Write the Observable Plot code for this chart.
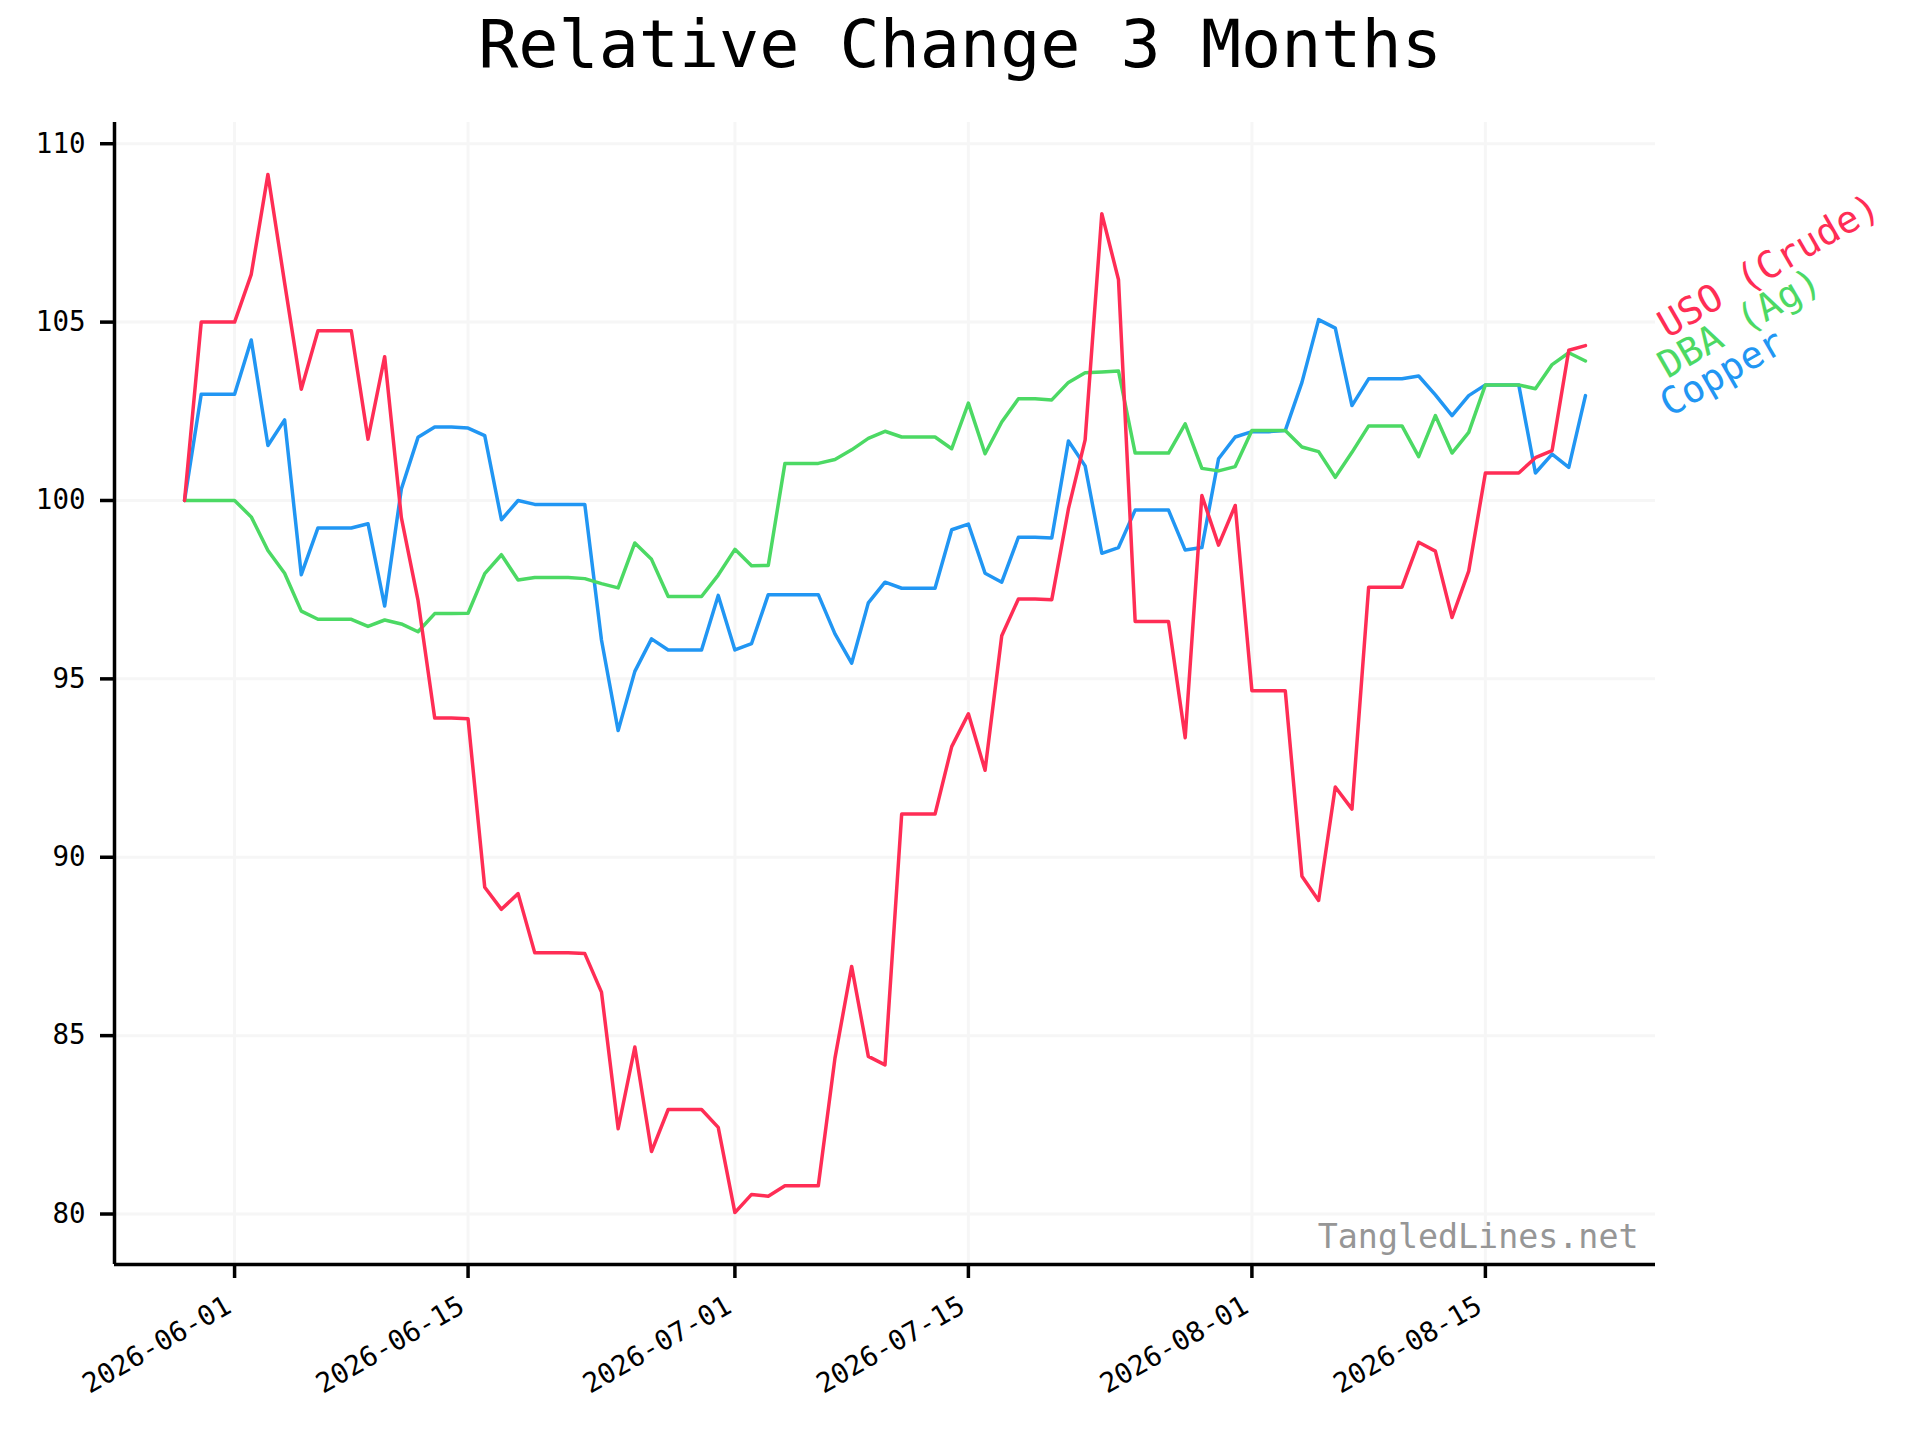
<!DOCTYPE html>
<html>
<head>
<meta charset="utf-8">
<script src="https://cdn.jsdelivr.net/npm/d3@7"></script>
<script src="https://cdn.jsdelivr.net/npm/@observablehq/plot@0.6"></script>
<style>
  html, body { margin: 0; padding: 0; background: #ffffff; }
  #wrap { width: 1920px; position: relative; background: #fff; }
  #title { position: relative; height: 100px; width: 1920px; }
  #title span {
    position: absolute; left: 0; width: 1920px; top: 11px; text-align: center;
    font-family: "DejaVu Sans Mono", monospace; font-size: 66.7px; line-height: 1; color: #000;
  }
  svg { display: block; }
</style>
</head>
<body>
<div id="wrap">
  <div id="title"><span>Relative Change 3 Months</span></div>
  <div id="chart"></div>
</div>
<script>
// ---- data ----
const startDate = "2026-05-29";
const endDate = "2026-08-21";

const seriesNames = ["USO (Crude)", "DBA (Ag)", "Copper"];

const uso = [
  100, 105.0, 105.0, 105.0, 106.34, 109.14, 106.1, 103.12, 104.76, 104.76,
  104.76, 101.72, 104.03, 99.52, 97.2, 93.9, 93.9, 93.88, 89.16, 88.54,
  88.98, 87.32, 87.32, 87.32, 87.3, 86.22, 82.39, 84.68, 81.75, 82.93,
  82.93, 82.93, 82.43, 80.04, 80.55, 80.5, 80.79, 80.79, 80.79, 84.37,
  86.94, 84.42, 84.18, 91.21, 91.21, 91.21, 93.1, 94.02, 92.44, 96.21,
  97.24, 97.24, 97.22, 99.77, 101.7, 108.04, 106.19, 96.61, 96.61, 96.61,
  93.35, 100.14, 98.75, 99.86, 94.67, 94.67, 94.67, 89.47, 88.79, 91.97,
  91.35, 97.57, 97.57, 97.57, 98.83, 98.58, 96.72, 98.02, 100.77, 100.77,
  100.77, 101.2, 101.4, 104.21, 104.34
];

const dba = [
  100, 100, 100, 100, 99.54, 98.6, 97.96, 96.9, 96.67, 96.67,
  96.67, 96.47, 96.65, 96.54, 96.32, 96.83, 96.83, 96.84, 97.95, 98.48,
  97.77, 97.84, 97.84, 97.84, 97.81, 97.67, 97.55, 98.81, 98.35, 97.31,
  97.31, 97.31, 97.91, 98.63, 98.17, 98.18, 101.04, 101.04, 101.04, 101.15,
  101.42, 101.74, 101.94, 101.78, 101.78, 101.78, 101.45, 102.73, 101.31, 102.2,
  102.85, 102.85, 102.82, 103.31, 103.58, 103.6, 103.63, 101.33, 101.33, 101.33,
  102.15, 100.9, 100.83, 100.95, 101.96, 101.96, 101.96, 101.5, 101.37, 100.65,
  101.35, 102.09, 102.09, 102.09, 101.23, 102.38, 101.33, 101.91, 103.24, 103.24,
  103.24, 103.13, 103.81, 104.14, 103.91
];

const copper = [
  100, 102.98, 102.98, 102.98, 104.5, 101.54, 102.26, 97.92, 99.23, 99.23,
  99.23, 99.35, 97.04, 100.32, 101.77, 102.06, 102.06, 102.03, 101.82, 99.46,
  100.0, 99.89, 99.89, 99.89, 99.89, 96.09, 93.55, 95.21, 96.12, 95.81,
  95.81, 95.81, 97.34, 95.81, 95.99, 97.36, 97.36, 97.36, 97.36, 96.26,
  95.44, 97.13, 97.71, 97.54, 97.54, 97.54, 99.18, 99.34, 97.96, 97.71,
  98.97, 98.97, 98.95, 101.67, 100.97, 98.52, 98.68, 99.73, 99.73, 99.73,
  98.61, 98.68, 101.17, 101.78, 101.93, 101.93, 101.96, 103.31, 105.07, 104.83,
  102.66, 103.41, 103.41, 103.41, 103.49, 102.96, 102.38, 102.94, 103.24, 103.24,
  103.24, 100.77, 101.3, 100.93, 102.94
];

const xTickLabels = ["2026-06-01", "2026-06-15", "2026-07-01", "2026-07-15", "2026-08-01", "2026-08-15"];
const yTickValues = [80, 85, 90, 95, 100, 105, 110];
const watermark = "TangledLines.net";

// ---- derived ----
const parse = d3.utcParse("%Y-%m-%d");
const dates = d3.utcDay.range(parse(startDate), d3.utcDay.offset(parse(endDate), 1));
const xTicks = xTickLabels.map(parse);

const all = uso.concat(dba, copper);
const yLo = d3.min(all), yHi = d3.max(all);
const yPad = (yHi - yLo) * 0.05;
const yMin = yLo - yPad, yMax = yHi + yPad;
const t0 = +dates[0], t1 = +dates[dates.length - 1];
const xPad = (t1 - t0) * 0.05;
const xMin = new Date(t0 - xPad), xMax = new Date(t1 + xPad);

const colors = {uso: "#ff2d55", dba: "#4cd964", copper: "#2196f3"};
const FONT = "DejaVu Sans Mono";
const TICK_FONT = 27.5;
const lastDate = dates[dates.length - 1];

function series(values) {
  return values.map((v, i) => ({date: dates[i], value: v}));
}

const chart = Plot.plot({
  width: 1920,
  height: 1340,
  marginTop: 22,
  marginBottom: 176,
  marginLeft: 114,
  marginRight: 265,
  style: {fontFamily: FONT, fontSize: TICK_FONT + "px", background: "#ffffff", color: "#000", overflow: "visible"},
  x: {type: "utc", domain: [xMin, xMax]},
  y: {domain: [yMin, yMax]},
  marks: [
    Plot.gridX(xTicks, {stroke: "#f6f6f6", strokeOpacity: 1, strokeWidth: 3}),
    Plot.gridY(yTickValues, {stroke: "#f6f6f6", strokeOpacity: 1, strokeWidth: 3}),
    Plot.line(series(copper), {x: "date", y: "value", stroke: colors.copper, strokeWidth: 3.5}),
    Plot.line(series(dba), {x: "date", y: "value", stroke: colors.dba, strokeWidth: 3.5}),
    Plot.line(series(uso), {x: "date", y: "value", stroke: colors.uso, strokeWidth: 3.5}),
    Plot.ruleX([xMin], {stroke: "#000", strokeWidth: 3.5}),
    Plot.ruleY([yMin], {stroke: "#000", strokeWidth: 3.5}),
    Plot.axisY(yTickValues, {
      tickSize: 14, tickPadding: 15, strokeWidth: 3.5, fontSize: TICK_FONT, fill: "#000", label: null
    }),
    // x tick marks (no text)
    Plot.axisX(xTicks, {
      tickSize: 14, strokeWidth: 3.5, label: null, tickFormat: () => ""
    }),
    // x tick labels (rotated)
    Plot.axisX(xTicks, {
      tickSize: 0, tickPadding: 39, fontSize: TICK_FONT, fill: "#000",
      tickRotate: -30, dx: -6, label: null, tickFormat: d3.utcFormat("%Y-%m-%d")
    }),
    Plot.text([seriesNames[0]], {
      x: () => lastDate, y: () => uso[uso.length - 1], text: d => d,
      dx: 82, dy: -7, rotate: -30, textAnchor: "start", lineAnchor: "bottom",
      fill: colors.uso, fontSize: 37.5, fontFamily: FONT
    }),
    Plot.text([seriesNames[1]], {
      x: () => lastDate, y: () => dba[dba.length - 1], text: d => d,
      dx: 82, dy: 18, rotate: -30, textAnchor: "start", lineAnchor: "bottom",
      fill: colors.dba, fontSize: 37.5, fontFamily: FONT
    }),
    Plot.text([seriesNames[2]], {
      x: () => lastDate, y: () => copper[copper.length - 1], text: d => d,
      dx: 84, dy: 22, rotate: -30, textAnchor: "start", lineAnchor: "bottom",
      fill: colors.copper, fontSize: 37.5, fontFamily: FONT
    }),
    Plot.text([watermark], {
      frameAnchor: "bottom-right", text: d => d, dx: -17, dy: -17,
      textAnchor: "end", lineAnchor: "bottom", fill: "#969696", fontSize: 33.3, fontFamily: FONT
    })
  ]
});

document.getElementById("chart").appendChild(chart);
</script>
</body>
</html>
